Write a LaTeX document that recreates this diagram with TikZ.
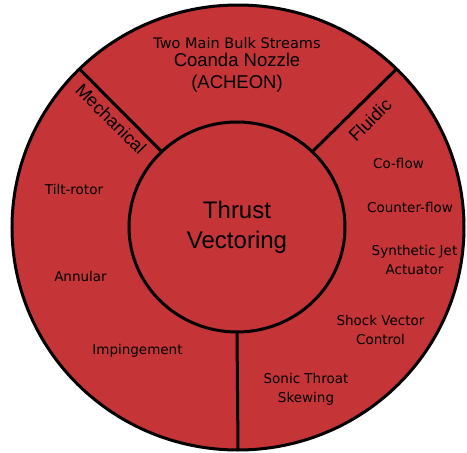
\documentclass[tikz,border=0pt]{standalone}
\usepackage{fontspec}
\setmainfont{Liberation Sans}
\newfontfamily\dejavu{DejaVu Sans}
\usetikzlibrary{shapes.geometric}
\definecolor{thrustred}{RGB}{197,52,54}

\begin{document}
\begin{tikzpicture}[x=1pt, y=-1pt,
  ring/.style={ellipse, draw=black, fill=thrustred, line width=3pt, inner sep=0pt, outer sep=0pt},
  divider/.style={black, line width=3pt},
  method/.style={font=\dejavu\fontsize{13.5}{19}\selectfont, align=center, anchor=base, inner sep=0pt},
  family/.style={font=\fontsize{18}{22}\selectfont, inner sep=0pt}]
  \useasboundingbox (0,0) rectangle (467,453);
  % outer ring and hub
  \node[ring, minimum width=452pt, minimum height=445pt] (rim) at (238,227.5) {};
  \node[ring, minimum width=216pt, minimum height=210pt, align=center,
        font=\fontsize{24}{30}\selectfont] (hub) at (237,227) {Thrust\\Vectoring};
  \draw[divider] (hub.135) -- (rim.135);
  \draw[divider] (hub.45) -- (rim.45);
  \draw[divider] (hub.south) -- (rim.south);
  % sector headings (base = last line)
  \node[family, rotate=-45] (mech) at (111,119) {Mechanical};
  \node[family, rotate=45] (fluid) at (370,120) {Fluidic};
  \node[method, font=\dejavu\fontsize{14.5}{18}\selectfont] (bulk) at (237,48) {Two Main Bulk Streams};
  \node[family, align=center, anchor=base, font=\fontsize{18.5}{22}\selectfont] (coanda) at (237,88) {Coanda Nozzle\\(ACHEON)};
  % mechanical methods
  \node[method] (tilt) at (74,194) {Tilt-rotor};
  \node[method] (annular) at (80.5,281) {Annular};
  \node[method] (imping) at (137.5,354) {Impingement};
  % fluidic methods
  \node[method] (coflow) at (398.5,168) {Co-flow};
  \node[method] (counter) at (410,212) {Counter-flow};
  \node[method] (synjet) at (414.5,274) {Synthetic Jet\\Actuator};
  \node[method] (shock) at (380.5,344) {Shock Vector\\Control};
  \node[method] (sonic) at (306,402) {Sonic Throat\\Skewing};
\end{tikzpicture}
\end{document}
